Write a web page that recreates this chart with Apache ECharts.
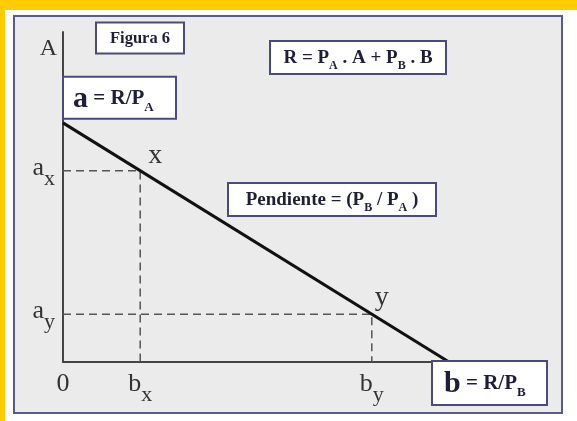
<!DOCTYPE html>
<html>
<head>
<meta charset="utf-8">
<script src="https://cdn.jsdelivr.net/npm/echarts@6/dist/echarts.min.js"></script>
<style>
html,body{margin:0;padding:0;background:#fff;}
#chart{width:577px;height:421px;}
</style>
</head>
<body>
<div id="chart"></div>
<script>
// recta de presupuesto: A = a - (a/b) * B
var interceptA = 10;          // a = R/PA
var interceptB = 10;          // b = R/PB
var pointX = [2, 8];          // (bx, ax)
var pointY = [8, 2];          // (by, ay)
var pointNames = ['x', 'y'];
var xTickLabels = {0: '0', 2: '{v|b}{s|x}', 8: '{v|b}{s|y}'};
var yTickLabels = {8: '{v|a}{s|x}', 2: '{v|a}{s|y}'};
var yAxisTop = 13.8;

var serif = "'Liberation Serif', 'Times New Roman', serif";
var ink = '#333';
var boxInk = '#1e1e36';
var boxLine = '#4a4a7c';

// subindices: se bajan con padding superior dentro de la linea
var tickRich = {
    v: {fontFamily: serif, fontSize: 26, color: ink, lineHeight: 30},
    s: {fontFamily: serif, fontSize: 22, color: ink, lineHeight: 6, padding: [23, 0, 0, 0]}
};

// caja con texto (anotaciones fijas)
function boxText(id, cx, cy, w, pad, text, rich) {
    return {
        type: 'text', id: id, x: cx, y: cy, z: 100,
        style: {
            text: text, rich: rich,
            align: 'center', verticalAlign: 'middle',
            width: w, padding: pad,
            backgroundColor: '#fff', borderColor: boxLine, borderWidth: 2,
            fontFamily: serif, fontWeight: 'bold', fill: boxInk
        }
    };
}

var boxRich = {
    t: {fontFamily: serif, fontWeight: 'bold', fontSize: 19, color: boxInk, lineHeight: 22},
    sub: {fontFamily: serif, fontWeight: 'bold', fontSize: 12, color: boxInk, lineHeight: 4, padding: [16, 0, 0, 0]}
};
var interceptRich = {
    big: {fontFamily: serif, fontWeight: 'bold', fontSize: 30, color: boxInk, lineHeight: 26},
    t: {fontFamily: serif, fontWeight: 'bold', fontSize: 21, color: boxInk, lineHeight: 26},
    sub: {fontFamily: serif, fontWeight: 'bold', fontSize: 13, color: boxInk, lineHeight: 6, padding: [18, 0, 0, 0]}
};

var chart = echarts.init(document.getElementById('chart'));
chart.setOption({
    animation: false,
    backgroundColor: '#fff',
    grid: {left: 63, top: 32, width: 386, height: 330},
    xAxis: {
        type: 'value', min: 0, max: interceptB, interval: 2,
        axisLine: {lineStyle: {color: '#444', width: 2}},
        axisTick: {show: false},
        splitLine: {show: false},
        axisLabel: {
            margin: 7,
            fontFamily: serif, fontSize: 26, color: ink, lineHeight: 30,
            formatter: function (v) { return xTickLabels[v] || ''; },
            rich: tickRich
        }
    },
    yAxis: {
        type: 'value', min: 0, max: yAxisTop, interval: 2,
        name: 'A', nameLocation: 'end', nameGap: -17,
        nameTextStyle: {fontFamily: serif, fontSize: 24, color: ink, align: 'right', verticalAlign: 'middle', padding: [0, 6, 0, 0]},
        axisLine: {lineStyle: {color: '#444', width: 2}},
        axisTick: {show: false},
        splitLine: {show: false},
        axisLabel: {
            margin: 8, padding: [0, 0, 6, 0],
            fontFamily: serif, fontSize: 26, color: ink,
            formatter: function (v) { return yTickLabels[v] || ''; },
            rich: tickRich
        }
    },
    graphic: [
        {type: 'rect', z: -10, shape: {x: 0, y: 0, width: 577, height: 10}, style: {fill: '#ffcc00'}},
        {type: 'rect', z: -10, shape: {x: 0, y: 0, width: 5, height: 421}, style: {fill: '#ffcc00'}},
        {type: 'rect', z: -9, shape: {x: 14, y: 16, width: 548, height: 397}, style: {fill: '#ebebeb', stroke: '#5a5a8a', lineWidth: 2}},
        boxText('fig', 140, 38, 86, [6, 0, 5, 0], '{f|Figura 6}', {f: {fontFamily: serif, fontWeight: 'bold', fontSize: 16.5, color: '#2d3566', lineHeight: 18}}),
        boxText('eq', 358, 57.5, 174, [5, 0, 4, 0], '{t|R = P}{sub|A}{t| . A + P}{sub|B}{t| . B}', boxRich),
        boxText('slope', 332, 199.5, 206, [5, 0, 4, 0], '{t|Pendiente = (P}{sub|B}{t| / P}{sub|A}{t| )}', boxRich)
    ],
    series: [
        {
            type: 'line', name: 'guiaX', silent: true, symbol: 'none', z: 2,
            lineStyle: {color: '#555', width: 1.5, type: [8, 5]},
            data: [[0, pointX[1]], [pointX[0], pointX[1]], [pointX[0], 0]]
        },
        {
            type: 'line', name: 'guiaY', silent: true, symbol: 'none', z: 2,
            lineStyle: {color: '#555', width: 1.5, type: [8, 5]},
            data: [[0, pointY[1]], [pointY[0], pointY[1]], [pointY[0], 0]]
        },
        {
            type: 'line', name: 'presupuesto', silent: true, symbol: 'none', z: 3,
            lineStyle: {color: '#111', width: 3},
            data: [[0, interceptA], [interceptB, 0]]
        },
        {
            type: 'scatter', name: 'puntos', symbolSize: 0, silent: true, z: 4,
            itemStyle: {opacity: 1},
            label: {show: true, formatter: '{b}', fontFamily: serif, fontSize: 28, color: ink},
            data: [
                {name: pointNames[0], value: pointX, label: {position: 'top', offset: [15, 4]}},
                {name: pointNames[1], value: pointY, label: {position: 'top', offset: [10, 2]}}
            ]
        },
        {
            type: 'scatter', name: 'interceptos', symbolSize: 0, silent: true, z: 5,
            itemStyle: {opacity: 1},
            label: {
                show: true, position: 'right', distance: 0,
                backgroundColor: '#fff', borderColor: boxLine, borderWidth: 2,
                rich: interceptRich
            },
            data: [
                {value: [0, interceptA], label: {
                    formatter: '{big|a}{t| = R/P}{sub|A}',
                    offset: [1, -25], width: 102, padding: [8, 0, 6, 9]
                }},
                {value: [interceptB, 0], label: {
                    formatter: '{big|b}{t| = R/P}{sub|B}',
                    offset: [-16, 21], width: 102, padding: [9, 0, 7, 11]
                }}
            ]
        }
    ]
});
</script>
</body>
</html>
